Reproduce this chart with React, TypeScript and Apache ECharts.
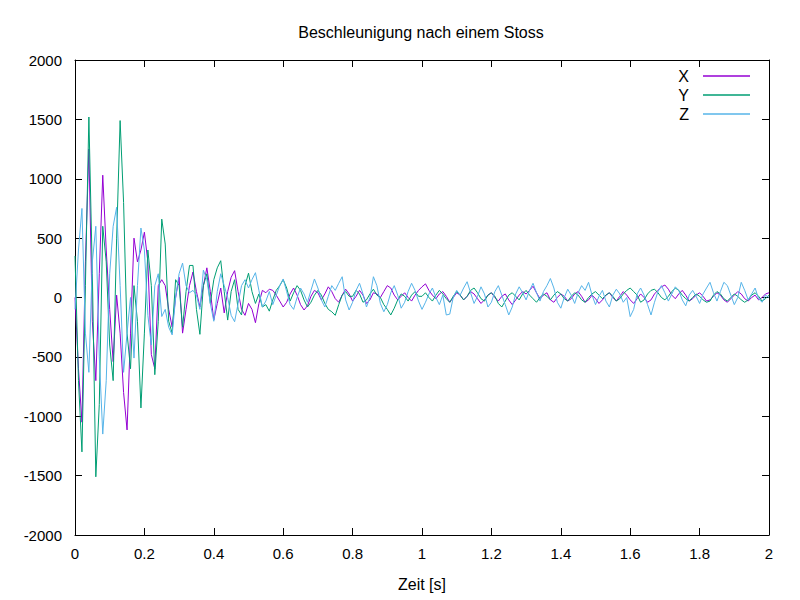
import React, { useEffect, useRef } from "react";
import * as echarts from "echarts";

const title = "Beschleunigung nach einem Stoss";
const xName = "Zeit [s]";
const seriesNames = ["X", "Y", "Z"];
const seriesColors = ["#9400d3", "#009e73", "#56b4e9"];
const dt = 0.01;

const xValues = [
  0, -600, -1050, 300, 1250, -200, -700, 200, 1030, 400,
  -100, -540, 20, -300, -800, -1115, -300, 500, 300, 400,
  550, 300, -480, -600, 100, 150, 100, -100, -250, 0,
  170, -300, -100, 100, 215, 50, -80, 100, 250, 50,
  -190, -50, 80, -130, 50, 170, 226, 50, -100, -150,
  -50, -100, -212, -50, 60, 40, 70, 60, 20, -30,
  -80, -40, 30, 80, 20, -60, -105, -70, 10, 60,
  40, -20, 30, 90, 50, -10, -40, 20, 70, 30,
  -30, 10, 60, 20, -50, -20, 40, 30, 0, 50,
  100, 80, 20, -20, 10, 40, 0, -30, 20, 60,
  90, 115, 60, 20, -10, 30, 50, 10, -40, 0,
  40, 20, -20, 10, 50, 30, -10, -50, -20, 20,
  40, 0, -30, 10, 30, -20, -60, -20, 20, 50,
  30, 60, 95, 40, -10, 20, 40, -20, -40, 0,
  30, 10, -30, -10, 30, 50, 10, -40, -20, 20,
  -10, -50, -20, 20, 40, 0, -30, 10, 50, 20,
  -20, -50, -10, 30, 0, -40, -20, 30, 60, 90,
  105, 70, 20, -10, 30, 60, 20, -30, -10, 20,
  40, 10, -30, -20, 10, 40, 20, -20, -40, -10,
  20, 50, 30, -10, -30, 0, 20, -20, 0, 30,
  40,
];

const yValues = [
  350, -700, -1300, 100, 1520, 200, -1510, -900, 600, 300,
  -400, -700, 500, 1490, 800, -300, -600, 100, -200, -930,
  -300, 400, 100, -650, -200, 660, 450, -200, -300, 150,
  100, -250, 50, 270, 270, -100, -310, 100, 200, -50,
  150, 250, 310, 50, -190, 50, 150, -100, -147, 100,
  205, 50, -50, 30, -80, -60, -115, -20, 60, 100,
  150, 80, -30, 40, 100, 60, -20, -80, -40, 20,
  60, 20, -50, -100, -120, -150, -60, 20, 50, 10,
  10, 60, 30, -40, -20, 30, 70, 20, 0, -60,
  -100, -147, -90, -20, 30, 10, -30, 20, 50, 10,
  10, 40, 0, -30, 20, 60, 30, -10, -40, 10,
  50, 20, -20, 10, 60, 80, 40, -10, -30, 20,
  40, 10, -50, -80, -30, 20, 40, 10, -20, 30,
  60, 20, -10, -40, 0, 30, 10, -20, 20, 50,
  30, -10, -30, 10, 40, 20, -20, -40, 0, 30,
  50, 20, -10, 20, 40, 10, -30, -10, 30, 60,
  80, 50, 20, -40, -20, 30, 60, 70, 40, 0,
  -20, 10, 50, 80, 60, 20, -10, -30, 0, 30,
  10, -20, -40, -30, 20, 50, 30, -10, -30, 0,
  30, 10, -20, -40, -20, 20, 40, 10, -30, -10,
  20,
];

const zValues = [
  -100, 400, 750, -300, -630, 300, 600, -500, -1150, -700,
  200, 600, 760, 100, -630, -300, 0, -510, 100, 585,
  400, -150, -400, 100, 200, -160, -100, -250, -315, 0,
  200, 290, 100, 40, 60, 20, -100, 230, 150, -50,
  -200, 50, 200, 100, 0, -150, -204, -50, 100, 150,
  80, 150, 209, 60, -80, -30, 50, -60, 20, 100,
  156, 50, -60, -100, 0, 80, 30, -40, 60, 156,
  80, -20, -80, 10, 100, 60, 120, 175, -20, -105,
  -40, 60, 120, 30, -80, 0, 175, 100, -50, -120,
  -60, 40, 100, 20, -90, -40, 50, 120, 60, -30,
  -100, -40, 30, 80, 0, -60, 20, -147, -140, 0,
  60, 20, 80, 133, 40, -50, 10, 90, 30, -80,
  -40, 50, 100, 20, -60, -147, -80, 30, 90, 40,
  -20, 60, 120, 40, -30, 50, 100, 160, 80, -40,
  -90, 0, 70, 20, -50, 40, 100, 60, 128, 20,
  -60, 10, 60, -30, -80, 20, 70, 30, -40, 0,
  -161, -100, 30, 80, 20, -60, -147, -40, 50, 100,
  40, -30, 30, 90, 60, -20, -70, 20, 60, 10,
  -50, 30, 80, 128, 40, -30, 50, 128, 100, 20,
  -60, 0, 128, 60, -20, 30, 80, -10, -40, 20,
  0,
];

const allValues = [xValues, yValues, zValues];
const FONT = "'Liberation Sans', Arial, sans-serif";

export default function App() {
  const ref = useRef<HTMLDivElement>(null);
  useEffect(() => {
    if (!ref.current) return;
    const chart = echarts.init(ref.current, null, { renderer: "svg" });
    const axisCommon = {
      axisLine: { show: true, onZero: false, lineStyle: { color: "#000", width: 1 } },
      axisTick: { show: true, inside: true, length: 7, lineStyle: { color: "#000" } },
      splitLine: { show: false },
    };
    chart.setOption({
      animation: false,
      backgroundColor: "#fff",
      textStyle: { fontFamily: FONT },
      title: {
        text: title,
        left: 416,
        textAlign: "center",
        top: 19,
        textStyle: { fontFamily: FONT, fontSize: 16, fontWeight: "normal", color: "#000" },
      },
      legend: {
        orient: "vertical",
        right: 45,
        top: 63,
        align: "right",
        itemWidth: 47,
        itemHeight: 1.5,
        itemGap: 3,
        icon: "rect",
        data: seriesNames,
        textStyle: { fontFamily: FONT, fontSize: 16, color: "#000", padding: [0, 9, 0, 0] },
      },
      grid: { left: 75, right: 31, top: 60, bottom: 65 },
      xAxis: [
        {
          type: "value",
          min: 0,
          max: 2,
          interval: 0.2,
          name: xName,
          nameLocation: "middle",
          nameGap: 41,
          nameTextStyle: { fontFamily: FONT, fontSize: 16, color: "#000" },
          axisLabel: { fontFamily: FONT, fontSize: 15, color: "#000", margin: 11, formatter: (v: number) => String(v) },
          ...axisCommon,
        },
        {
          type: "value",
          position: "top",
          min: 0,
          max: 2,
          interval: 0.2,
          axisLabel: { show: false },
          ...axisCommon,
        },
      ],
      yAxis: [
        {
          type: "value",
          min: -2000,
          max: 2000,
          interval: 500,
          axisLabel: { fontFamily: FONT, fontSize: 15, color: "#000", margin: 13, formatter: (v: number) => String(v) },
          ...axisCommon,
        },
        {
          type: "value",
          position: "right",
          min: -2000,
          max: 2000,
          interval: 500,
          axisLabel: { show: false },
          ...axisCommon,
        },
      ],
      series: seriesNames.map((name, k) => ({
        name,
        type: "line",
        xAxisIndex: 0,
        yAxisIndex: 0,
        showSymbol: false,
        symbol: "none",
        color: seriesColors[k],
        lineStyle: { width: 1, color: seriesColors[k] },
        data: allValues[k].map((v, i) => [+(i * dt).toFixed(2), v]),
        z: 2 + k,
      })),
    });
    return () => chart.dispose();
  }, []);
  return (
    <div
      ref={ref}
      style={{ position: "fixed", left: 0, top: 0, width: 800, height: 600 }}
    />
  );
}
